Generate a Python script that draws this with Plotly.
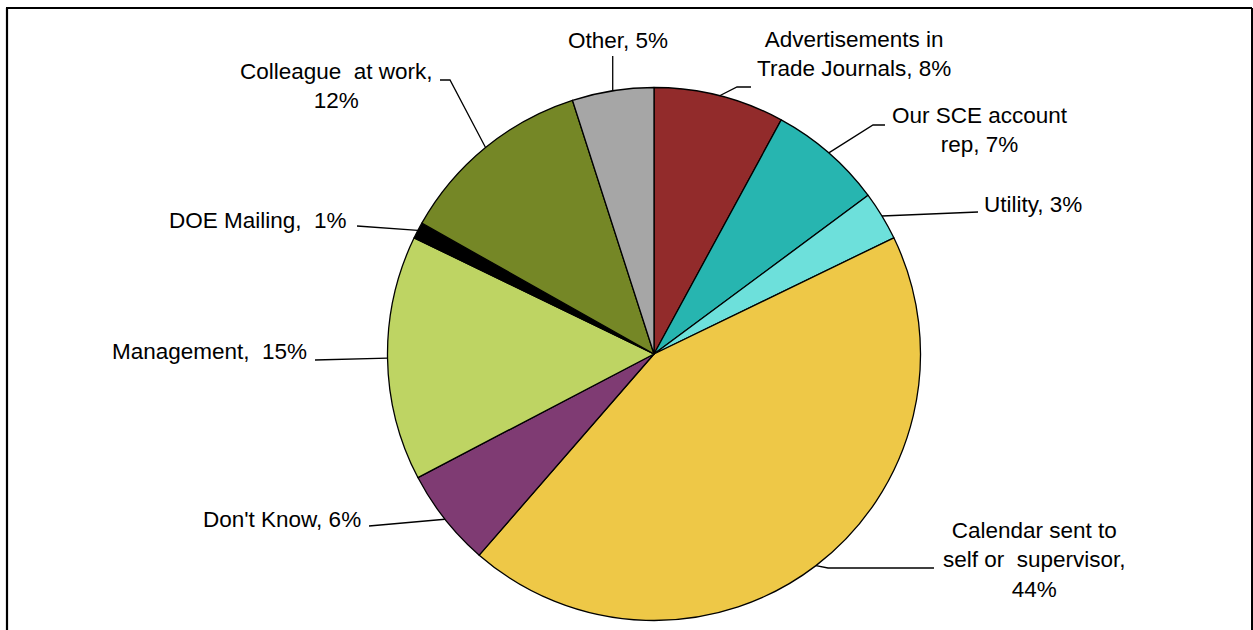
import math
import plotly.graph_objects as go

W, H = 1253, 630

# Survey responses: where respondents heard about the event (percent)
categories = [
    "Advertisements in Trade Journals",
    "Our SCE account rep",
    "Utility",
    "Calendar sent to self or supervisor",
    "Don't Know",
    "Management",
    "DOE Mailing",
    "Colleague at work",
    "Other",
]
percents = [8, 7, 3, 44, 6, 15, 1, 12, 5]
label_text = [
    "Advertisements in<br>Trade Journals, 8%",
    "Our SCE account<br>rep, 7%",
    "Utility, 3%",
    "Calendar sent to<br>self or  supervisor,<br>44%",
    "Don't Know, 6%",
    "Management,  15%",
    "DOE Mailing,  1%",
    "Colleague  at work,<br>12%",
    "Other, 5%",
]
colors = ["#922B2B", "#27B5B0", "#6DE0DB", "#EEC847", "#7F3B73",
          "#BED463", "#000000", "#758726", "#A6A6A6"]

# Pie geometry in page pixels
CX, CY, R = 654, 354, 266.5

# Label placement: (x, y, xanchor) in pixels, plus leader-line bend points
label_pos = [
    (854, 54, "center"),
    (980, 130, "center"),
    (982, 205, "left"),
    (1034, 560, "center"),
    (363, 519, "right"),
    (309, 351, "right"),
    (349, 220, "right"),
    (336, 86, "center"),
    (618, 41, "center"),
]
leader_pts = [
    [(737, 87), (751, 87)],
    [(873, 125), (885, 125)],
    [(978, 212)],
    [(828, 568), (934, 568)],
    [(369, 526)],
    [(315, 360)],
    [(357, 226)],
    [(450, 80), (440, 80)],
    [(None, 56)],
]


def px(x):
    return x / W


def py(y):
    return 1 - y / H


fig = go.Figure(
    go.Pie(
        values=percents,
        labels=categories,
        sort=False,
        direction="clockwise",
        rotation=0,
        textinfo="none",
        hoverinfo="label+value",
        marker=dict(colors=colors, line=dict(color="#000000", width=1.3)),
        domain=dict(x=[px(CX - R), px(CX + R)], y=[py(CY + R), py(CY - R)]),
        showlegend=False,
    )
)

total = sum(percents)
shapes = []
annotations = []
cum = 0
for i, v in enumerate(percents):
    mid = (cum + v / 2) / total * 2 * math.pi
    cum += v
    ex = CX + R * math.sin(mid)
    ey = CY - R * math.cos(mid)
    pts = [(ex, ey)]
    for (bx, by) in leader_pts[i]:
        pts.append((ex if bx is None else bx, by))
    path = "M " + " L ".join(f"{px(a):.5f},{py(b):.5f}" for a, b in pts)
    shapes.append(dict(type="path", xref="paper", yref="paper", path=path,
                       line=dict(color="#000000", width=1.3)))
    lx, ly, anc = label_pos[i]
    annotations.append(dict(
        x=px(lx), y=py(ly), xref="paper", yref="paper",
        xanchor=anc, yanchor="middle", align="center",
        text=label_text[i], showarrow=False,
        font=dict(family="Liberation Sans, Arial, sans-serif", size=22.5, color="#000000"),
    ))

# Chart frame (left, top, right edges)
frame = [
    (7, 8, 7, H + 5, 2.2),
    (6, 8, 1252, 8, 2.2),
    (1252, 8, 1252, H + 5, 2.0),
]
for x0, y0, x1, y1, w in frame:
    shapes.append(dict(type="line", xref="paper", yref="paper",
                       x0=px(x0), y0=py(y0), x1=px(x1), y1=py(y1),
                       line=dict(color="#000000", width=w)))

fig.update_layout(
    width=W, height=H,
    margin=dict(l=0, r=0, t=0, b=0),
    paper_bgcolor="#FFFFFF",
    plot_bgcolor="#FFFFFF",
    shapes=shapes,
    annotations=annotations,
)

fig.write_html("out.html")
